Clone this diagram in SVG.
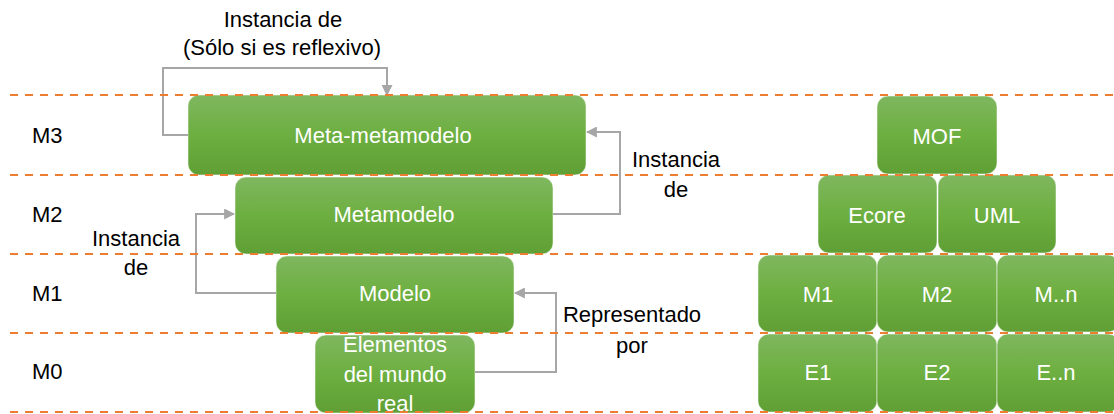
<svg xmlns="http://www.w3.org/2000/svg" width="1114" height="414" viewBox="0 0 1114 414">
<defs>
<linearGradient id="g" x1="0" y1="0" x2="0" y2="1">
<stop offset="0" stop-color="#7fb75f"/>
<stop offset="0.5" stop-color="#6daf40"/>
<stop offset="1" stop-color="#5f9f35"/>
</linearGradient>
<marker id="ah" viewBox="0 0 10 10" refX="9" refY="5" markerWidth="5.5" markerHeight="5.5" orient="auto" markerUnits="strokeWidth">
<path d="M0,0 L10,5 L0,10 z" fill="#a6a6a6"/>
</marker>
<style>
.n rect{fill:url(#g);stroke:#ffffff;stroke-opacity:0.5;stroke-width:1}
.n text{fill:#ffffff;font-family:"Liberation Sans",Arial,sans-serif;font-size:22px;text-anchor:middle}
.lbl{fill:#000000;font-family:"Liberation Sans",Arial,sans-serif;font-size:22px}
.c{text-anchor:middle}
.con path{fill:none;stroke:#a6a6a6;stroke-width:2;marker-end:url(#ah)}
.dl line{stroke:#ed7d31;stroke-width:2;stroke-dasharray:8 7}
</style>
</defs>
<rect width="1114" height="414" fill="#ffffff"/>
<g id="level-labels" class="lbl">
<text x="32" y="143">M3</text>
<text x="32" y="222">M2</text>
<text x="32" y="301">M1</text>
<text x="32" y="379">M0</text>
</g>
<g id="node-metametamodelo" class="n"><rect x="188" y="95" width="398" height="80" rx="11"/><text x="383" y="143">Meta-metamodelo</text></g>
<g id="node-metamodelo" class="n"><rect x="235" y="177" width="318" height="77" rx="11"/><text x="394" y="222">Metamodelo</text></g>
<g id="node-modelo" class="n"><rect x="276" y="256" width="238" height="77" rx="11"/><text x="395" y="301">Modelo</text></g>
<g id="node-elementos" class="n"><rect x="315" y="335" width="160" height="78" rx="11"/><text x="395" y="352">Elementos</text><text x="395" y="382">del mundo</text><text x="395" y="411">real</text></g>
<g id="node-mof" class="n"><rect x="877" y="96" width="120" height="78" rx="11"/><text x="937" y="144">MOF</text></g>
<g id="node-ecore" class="n"><rect x="818" y="175" width="119" height="78" rx="11"/><text x="877" y="223">Ecore</text></g>
<g id="node-uml" class="n"><rect x="938" y="175" width="118" height="78" rx="11"/><text x="997" y="223">UML</text></g>
<g id="node-m1" class="n"><rect x="758" y="255" width="119" height="77" rx="11"/><text x="818" y="302">M1</text></g>
<g id="node-m2" class="n"><rect x="877" y="255" width="120" height="77" rx="11"/><text x="937" y="302">M2</text></g>
<g id="node-mn" class="n"><rect x="997" y="255" width="122" height="77" rx="11"/><text x="1056" y="302">M..n</text></g>
<g id="node-e1" class="n"><rect x="758" y="334" width="119" height="78" rx="11"/><text x="818" y="380">E1</text></g>
<g id="node-e2" class="n"><rect x="877" y="334" width="120" height="78" rx="11"/><text x="937" y="380">E2</text></g>
<g id="node-en" class="n"><rect x="997" y="334" width="122" height="78" rx="11"/><text x="1056" y="380">E..n</text></g>
<g id="connectors" class="con">
<path d="M188,135 H163 V68 H387 V95"/>
<path d="M553,214 H620 V132 H587"/>
<path d="M276,293 H196 V214 H234"/>
<path d="M475,372 H556 V293 H515"/>
</g>
<g id="connector-labels" class="lbl c">
<text x="283" y="27">Instancia de</text>
<text x="282" y="55">(Sólo si es reflexivo)</text>
<text x="676" y="167">Instancia</text>
<text x="676" y="197">de</text>
<text x="136" y="246">Instancia</text>
<text x="136" y="275">de</text>
<text x="632" y="322">Representado</text>
<text x="632" y="353">por</text>
</g>
<g id="layer-lines" class="dl">
<line x1="10" y1="95" x2="1114" y2="95"/>
<line x1="10" y1="175" x2="1114" y2="175"/>
<line x1="10" y1="254" x2="1114" y2="254"/>
<line x1="10" y1="333" x2="1114" y2="333"/>
<line x1="10" y1="412" x2="1114" y2="412"/>
</g>
</svg>
